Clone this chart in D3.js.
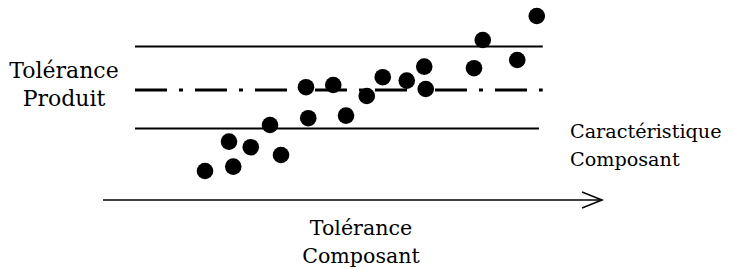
<!DOCTYPE html>
<meta charset="utf-8">
<style>
body { margin: 0; background: #fff; }
</style>
<svg width="733" height="269"></svg>
<script src="https://cdn.jsdelivr.net/npm/d3@7"></script>
<script>

// component characteristic (x) vs product characteristic (y)
var compValues = [4.08, 5.04, 5.21, 5.91, 6.68, 7.12, 8.12, 8.21, 9.21, 9.72,
                  10.55, 11.19, 12.15, 12.85, 12.91, 14.84, 15.19, 16.57, 17.35];
var prodValues = [1.45, 2.92, 1.67, 2.64, 3.75, 2.25, 5.64, 4.09, 5.75, 4.22,
                  5.2, 6.14, 5.97, 6.67, 5.55, 6.59, 8.0, 7.0, 9.2];

var tolUpper = 7.67,
    tolNominal = 5.5,
    tolLower = 3.58;

var leftLabel = ["Tolérance", "Produit"],
    rightLabel = ["Caractéristique", "Composant"],
    bottomLabel = ["Tolérance", "Composant"];

var svg = d3.select("svg");

var x = d3.scaleLinear().domain([0, 20]).range([103, 603]),
    y = d3.scaleLinear().domain([0, 10]).range([200, 0]);

// tolerance band
var tol = [
  {v: tolUpper, x1: 1.28, x2: 17.59, dash: null, w: 2},
  {v: tolNominal, x1: 1.28, x2: 17.59, dash: "32,12,4,12", w: 3},
  {v: tolLower, x1: 1.28, x2: 17.44, dash: null, w: 2}
];

svg.selectAll(".tol")
  .data(tol)
  .enter().append("line")
    .attr("class", "tol")
    .attr("x1", function(d) { return x(d.x1); })
    .attr("x2", function(d) { return x(d.x2); })
    .attr("y1", function(d) { return y(d.v); })
    .attr("y2", function(d) { return y(d.v); })
    .attr("stroke", "#000")
    .attr("stroke-width", function(d) { return d.w; })
    .attr("stroke-dasharray", function(d) { return d.dash; });

// axis arrow
svg.append("line")
    .attr("x1", x(0)).attr("x2", x(19.96))
    .attr("y1", y(0)).attr("y2", y(0))
    .attr("stroke", "#000").attr("stroke-width", 1.5);

svg.append("path")
    .attr("d", "M" + (x(19.96) - 20) + "," + (y(0) - 8) + "L" + x(19.96) + "," + y(0) +
               "L" + (x(19.96) - 20) + "," + (y(0) + 8))
    .attr("fill", "none").attr("stroke", "#000").attr("stroke-width", 1.5);

// points
svg.selectAll(".dot")
  .data(d3.zip(compValues, prodValues))
  .enter().append("circle")
    .attr("class", "dot")
    .attr("cx", function(d) { return x(d[0]); })
    .attr("cy", function(d) { return y(d[1]); })
    .attr("r", 8.3)
    .attr("fill", "#000");

// labels: shrink font of the whole block if its longest line is too wide
function label(lines, px, py, anchor, maxW) {
  var t = svg.append("g").selectAll("text")
    .data(lines)
    .enter().append("text")
      .attr("x", px)
      .attr("y", function(d, i) { return py + i * 28; })
      .attr("text-anchor", anchor)
      .attr("font-family", "'DejaVu Serif', 'Liberation Serif', serif")
      .attr("font-size", 22)
      .attr("fill", "#000")
      .text(function(d) { return d; });
  var w = d3.max(t.nodes(), function(n) { return n.getComputedTextLength(); });
  if (w > maxW) t.attr("font-size", Math.floor(22 * maxW / w * 10) / 10);
}

label(leftLabel, 64, 78, "middle", 110);
label(rightLabel, 570, 138, "start", 152);
label(bottomLabel, 361, 235, "middle", 118);

</script>
